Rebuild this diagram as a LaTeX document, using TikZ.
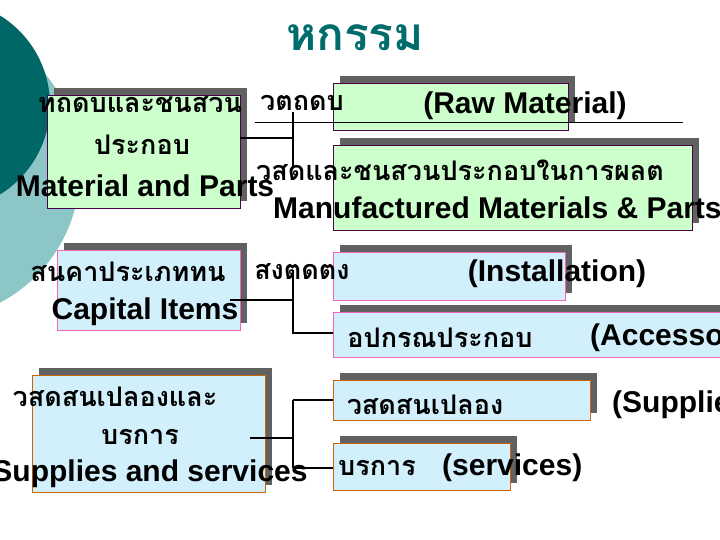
\documentclass[tikz,border=0pt]{standalone}
\usepackage{fontspec}
\setmainfont{Liberation Sans}
\newfontfamily\thai[Script=Thai]{Loma}
\begin{document}
\begin{tikzpicture}[x=1pt,y=-1pt,
  shadowbox/.style={fill=black!62},
  gbox/.style={fill=green!20, draw=violet!60!black, line width=0.8pt},
  cbox/.style={fill=cyan!18, draw=magenta!60, line width=0.8pt},
  obox/.style={fill=cyan!18, draw=orange!80!black, line width=0.8pt},
  txt/.style={font=\fontsize{30}{32}\selectfont\bfseries, inner sep=0pt},
  ttxt/.style={font=\thai\fontsize{27}{29}\selectfont\bfseries, inner sep=0pt},
  conn/.style={line width=1.3pt}]
\useasboundingbox (0,0) rectangle (720,540);
\clip (0,0) rectangle (720,540);
\fill[white] (0,0) rectangle (720,540);
\fill[teal!45!white] (-70,170) circle (150);
\fill[teal!80!black] (-55,105) circle (105);
\node[font=\thai\fontsize{46}{50}\selectfont\bfseries, text=teal!85!black] (title) at (355,38) {หกรรม};
% shadows and boxes
\newcommand\myshbox[5]{\fill[shadowbox] (#1+7,#2-7) rectangle (#3+7,#4-7);
  \path[#5] (#1,#2) rectangle (#3,#4);}
\myshbox{47}{95}{240}{208}{gbox}
\myshbox{333}{83}{568}{130}{gbox}
\myshbox{333}{145}{692}{230}{gbox}
\myshbox{57}{250}{240}{330}{cbox}
\myshbox{333}{252}{565}{300}{cbox}
\myshbox{333}{312}{730}{357}{cbox}
\myshbox{32}{375}{265}{492}{obox}
\myshbox{333}{380}{590}{420}{obox}
\myshbox{333}{443}{510}{490}{obox}
% coordinates
\coordinate (a1) at (240,138); \coordinate (a2) at (293,138);
\coordinate (a3) at (293,112); \coordinate (a4) at (293,167);
\coordinate (u1) at (255,122); \coordinate (u2) at (683,122);
\coordinate (b1) at (230,300); \coordinate (b2) at (293,300);
\coordinate (b3) at (293,270); \coordinate (b4) at (293,333); \coordinate (b5) at (333,333);
\coordinate (c1) at (250,438); \coordinate (c2) at (293,438);
\coordinate (c3) at (293,400); \coordinate (c4) at (293,468);
\coordinate (c5) at (333,400); \coordinate (c6) at (333,468);
\draw[conn] (a1) -- (a2); \draw[conn] (a3) -- (a4);
\draw[line width=0.8pt] (u1) -- (u2);
\draw[conn] (b1) -- (b2); \draw[conn] (b3) -- (b4) -- (b5);
\draw[conn] (c1) -- (c2); \draw[conn] (c3) -- (c4);
\draw[conn] (c3) -- (c5); \draw[conn] (c4) -- (c6);
% texts
\node[ttxt] (t1) at (140,105) {ทถดบและชนสวน};
\node[ttxt] (t2) at (142,145) {ประกอบ};
\node[txt] (t3) at (145,186) {Material and Parts};
\node[ttxt] (t4) at (302,103) {วตถดบ};
\node[txt] (t5) at (525,106) {(Raw Material)};
\node[ttxt] (t6) at (460,170) {วสดและชนสวนประกอบในการผลต};
\node[txt, anchor=west] (t7) at (273,208) {Manufactured Materials \& Parts};
\node[ttxt] (t8) at (128,272) {สนคาประเภททน};
\node[ttxt] (t9) at (302,272) {สงตดตง};
\node[txt] (t10) at (557,274) {(Installation)};
\node[txt] (t11) at (145,312) {Capital Items};
\node[ttxt] (t12) at (440,338) {อปกรณประกอบ};
\node[txt, anchor=west] (t13) at (590,338) {(Accessory)};
\node[ttxt] (t14) at (115,397) {วสดสนเปลองและ};
\node[ttxt] (t15) at (140,437) {บรการ};
\node[txt] (t16) at (150,474) {Supplies and services};
\node[ttxt] (t17) at (425,405) {วสดสนเปลอง};
\node[txt, anchor=west] (t18) at (612,405) {(Supplies)};
\node[ttxt, anchor=west] (t19) at (338,468) {บรการ};
\node[txt, anchor=west] (t20) at (442,468) {(services)};
\end{tikzpicture}
\end{document}
